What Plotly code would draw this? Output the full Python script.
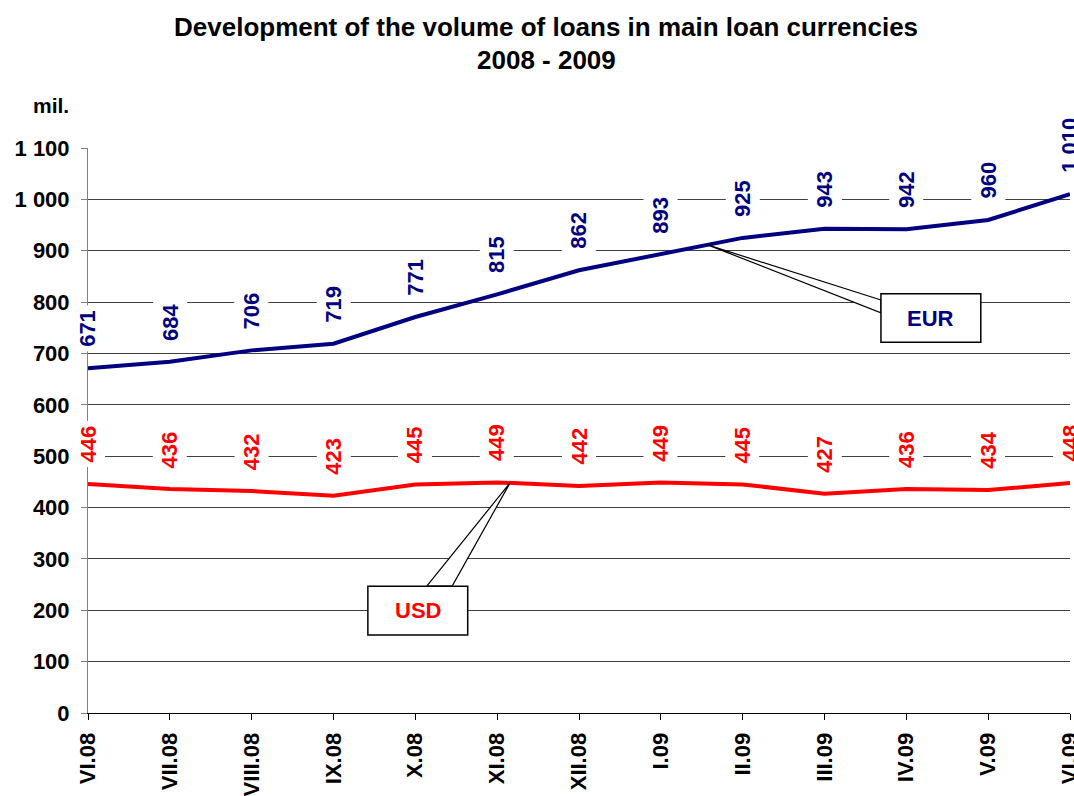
import plotly.graph_objects as go

months = ["VI.08", "VII.08", "VIII.08", "IX.08", "X.08", "XI.08", "XII.08",
          "I.09", "II.09", "III.09", "IV.09", "V.09", "VI.09"]
eur = [671, 684, 706, 719, 771, 815, 862, 893, 925, 943, 942, 960, 1010]
usd = [446, 436, 432, 423, 445, 449, 442, 449, 445, 427, 436, 434, 448]
y_ticks = list(range(0, 1101, 100))

EUR_C = "#000080"
USD_C = "#FF0000"
FONT = "Liberation Sans, Arial, sans-serif"

# plot-area geometry in page pixels
PX0, PW, PY0, PH = 88, 982, 148, 565


def px(xp):
    return (xp - PX0) / PW


def py(yp):
    return (PY0 + PH - yp) / PH


def fmt(v):
    return f"{v:,}".replace(",", " ")


xs = list(range(len(months)))

fig = go.Figure()
fig.add_trace(go.Scatter(x=xs, y=eur, mode="lines", name="EUR",
                         line=dict(color=EUR_C, width=4), hoverinfo="skip"))
fig.add_trace(go.Scatter(x=xs, y=usd, mode="lines", name="USD",
                         line=dict(color=USD_C, width=4), hoverinfo="skip"))

annotations = []
for series, color in ((eur, EUR_C), (usd, USD_C)):
    for x, v in zip(xs, series):
        annotations.append(dict(
            x=x, y=v, xref="x", yref="y", text=fmt(v), showarrow=False,
            textangle=-90, yanchor="bottom", xanchor="center", yshift=16,
            bgcolor="white", borderpad=4,
            font=dict(family=FONT, size=22, color=color, weight="bold")))

# callouts
shapes = []
shapes.append(dict(type="path", xref="x", yref="y",
                   path="M 4.14,247 L 5.157,448 L 4.45,247 Z",
                   fillcolor="white", line=dict(color="black", width=1.2), layer="above"))
shapes.append(dict(type="rect", xref="x", yref="y", x0=3.42, x1=4.64, y0=152, y1=247,
                   fillcolor="white", line=dict(color="black", width=1.5), layer="above"))
annotations.append(dict(x=4.03, y=199.5, xref="x", yref="y", text="USD", showarrow=False,
                        font=dict(family=FONT, size=22, color=USD_C, weight="bold")))
shapes.append(dict(type="path", xref="x", yref="y",
                   path="M 9.69,804 L 7.58,911 L 9.69,779 Z",
                   fillcolor="white", line=dict(color="black", width=1.2), layer="above"))
shapes.append(dict(type="rect", xref="x", yref="y", x0=9.69, x1=10.91, y0=722, y1=816,
                   fillcolor="white", line=dict(color="black", width=1.5), layer="above"))
annotations.append(dict(x=10.3, y=769, xref="x", yref="y", text="EUR", showarrow=False,
                        font=dict(family=FONT, size=22, color=EUR_C, weight="bold")))

# unit label and title lines
annotations.append(dict(x=px(51), y=py(105), xref="paper", yref="paper", text="mil.",
                        showarrow=False, xanchor="center", yanchor="middle",
                        font=dict(family=FONT, size=21, color="black", weight="bold")))
annotations.append(dict(x=px(546), y=py(27), xref="paper", yref="paper",
                        text="Development of the volume of loans in main loan currencies",
                        showarrow=False, xanchor="center", yanchor="middle",
                        font=dict(family=FONT, size=26, color="black", weight="bold")))
annotations.append(dict(x=px(546), y=py(60), xref="paper", yref="paper",
                        text="2008 - 2009",
                        showarrow=False, xanchor="center", yanchor="middle",
                        font=dict(family=FONT, size=26, color="black", weight="bold")))

fig.update_layout(
    width=1074, height=796,
    margin=dict(l=88, r=4, t=148, b=83, autoexpand=False),
    paper_bgcolor="white", plot_bgcolor="white",
    showlegend=False,
    xaxis=dict(range=[0, 12], tickmode="array", tickvals=xs, ticktext=months,
               tickangle=-90, ticks="outside", ticklen=6, tickcolor="black",
               ticklabelstandoff=4, ticklabeloverflow="allow", automargin=False,
               showline=True, linecolor="black", linewidth=1, showgrid=False,
               zeroline=False,
               tickfont=dict(family=FONT, size=22, color="black", weight="bold")),
    yaxis=dict(range=[0, 1100], tickmode="array", tickvals=y_ticks,
               ticktext=[fmt(v) for v in y_ticks],
               ticks="outside", ticklen=6, tickcolor="#808080",
               ticklabelstandoff=7, ticklabeloverflow="allow", automargin=False,
               showline=True, linecolor="#808080", linewidth=1,
               showgrid=True, gridcolor="#404040", gridwidth=1, zeroline=False,
               tickfont=dict(family=FONT, size=22, color="black", weight="bold")),
    annotations=annotations, shapes=shapes,
)

fig.write_html("out.html", config={"displayModeBar": False},
               post_script="document.body.style.margin='0';"
                           "document.body.style.overflow='hidden';")
